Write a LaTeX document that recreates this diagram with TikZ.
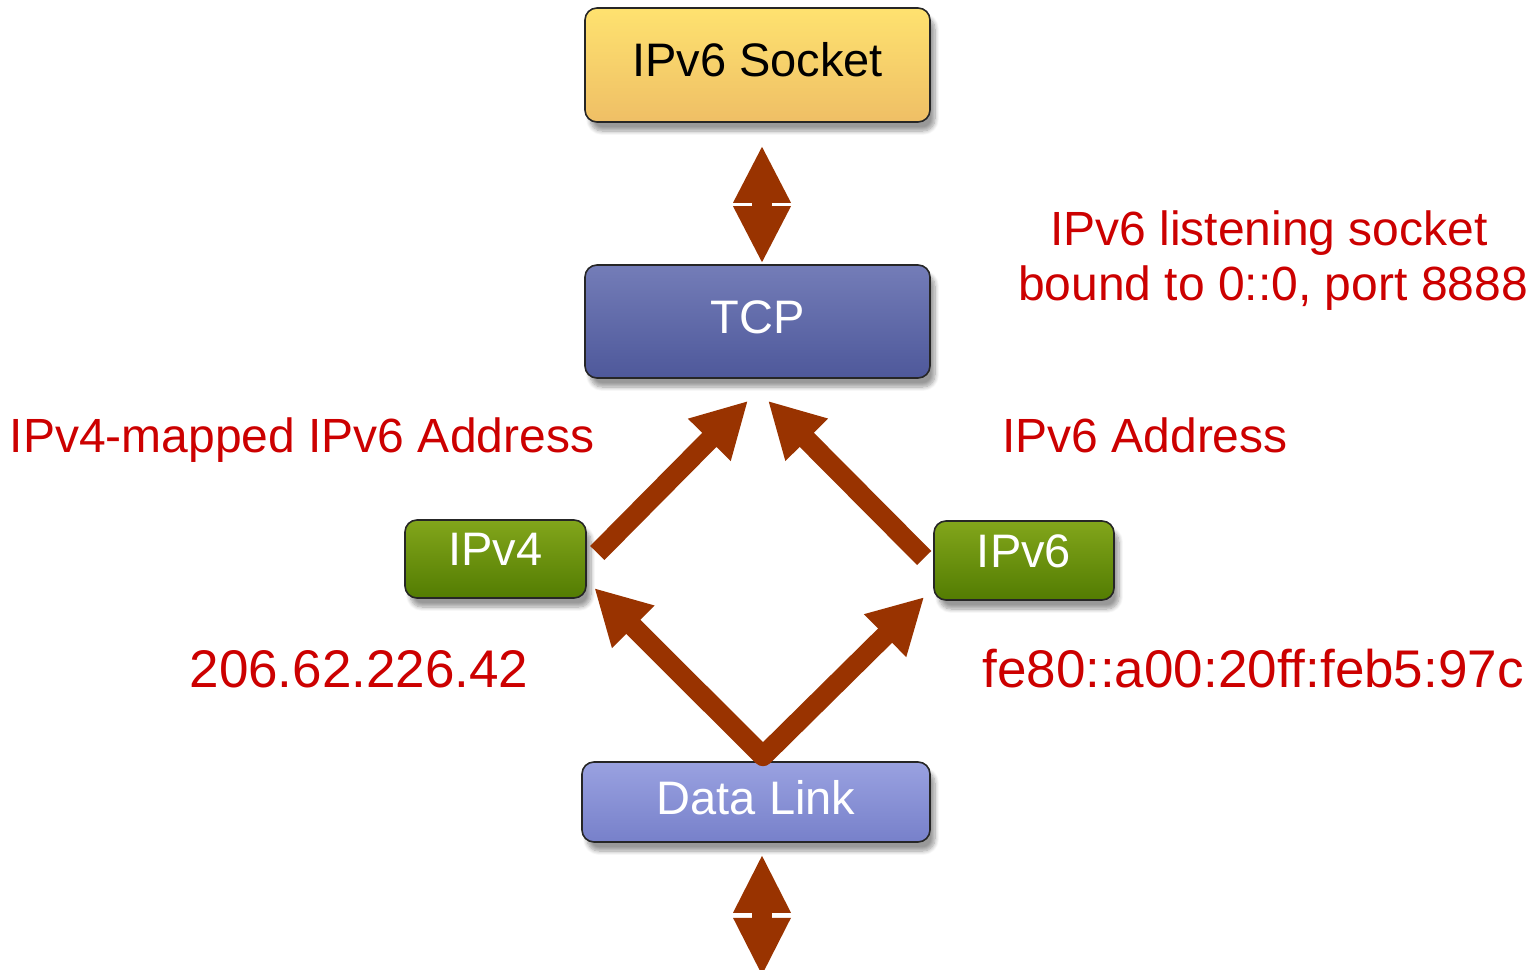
\documentclass[tikz,border=0pt]{standalone}
\usepackage{fontspec}
\setmainfont{Liberation Sans}
\usetikzlibrary{arrows.meta,shadows.blur,calc}

\definecolor{arrowbrown}{HTML}{993300}
\definecolor{labelred}{HTML}{CC0000}
\definecolor{edge}{HTML}{262626}
\definecolor{sockM}{HTML}{FECB6C}
\definecolor{tcpM}{HTML}{5560A8}
\definecolor{ipM}{HTML}{5C8A02}
\definecolor{dlM}{HTML}{808AD9}

\tikzset{
  layer/.style={draw=edge, line width=0.8pt, rounded corners=6pt, inner sep=0pt,
    font=\fontsize{23.5pt}{28pt}\selectfont, text height=16.8pt, text depth=5pt,
    blur shadow={shadow xshift=2.5pt, shadow yshift=-4.5pt, shadow opacity=40, shadow blur steps=8}},
  sockbox/.style={layer, top color=sockM!70!yellow!80!white, middle color=sockM, bottom color=sockM!94!black, text=black},
  tcpbox/.style={layer, top color=tcpM!82!white, middle color=tcpM, bottom color=tcpM!92!black, text=white},
  ipbox/.style={layer, top color=ipM!85!yellow!90!white, middle color=ipM, bottom color=ipM!90!black, text=white, text depth=10pt},
  linkbox/.style={layer, top color=dlM!80!white, middle color=dlM, bottom color=dlM!93!black, text=white, text depth=4pt},
  note/.style={text=labelred, anchor=base, inner sep=0pt, font=\fontsize{24pt}{28pt}\selectfont},
  addr/.style={text=labelred, anchor=base, inner sep=0pt, font=\fontsize{26.5pt}{30pt}\selectfont},
  flow/.style={draw=arrowbrown, line width=10pt, line join=round,
    arrows={-Triangle[length=27.5pt, width=28pt]}},
  bidi/.style={fill=arrowbrown, draw=none},
}

\begin{document}
\begin{tikzpicture}[x=0.5pt, y=-0.5pt]
\useasboundingbox (0,0) rectangle (1539,970);

% protocol layers
\node[sockbox, minimum width=172.5pt, minimum height=57pt] (sock) at (757.5,65) {IPv6 Socket};
\node[tcpbox, minimum width=172.5pt, minimum height=56.5pt] (tcp) at (757.5,321.5) {TCP};
\node[ipbox, minimum width=90.5pt, minimum height=39pt] (ipv4) at (495.5,559) {IPv4};
\node[ipbox, minimum width=90pt, minimum height=39.5pt] (ipv6) at (1024,560.5) {IPv6};
\node[linkbox, minimum width=174pt, minimum height=40pt] (dl) at (756,802) {Data Link};

% two-way arrow between socket and TCP
\coordinate (up) at ($(sock.south)+(4.5,24)$);
\coordinate (uq) at ($(tcp.north)+(4.5,-2)$);
\fill[bidi] (up) -- ++(29,56) -- ++(-58,0) -- cycle;
\fill[bidi] (uq) -- ++(29,-56) -- ++(-58,0) -- cycle;
\fill[bidi] ($(up)+(-10,48)$) rectangle ($(up)+(10,70)$);

% two-way arrow below the data link
\coordinate (dp) at ($(dl.south)+(6,13)$);
\fill[bidi] (dp) -- ++(29,57) -- ++(-58,0) -- cycle;
\fill[bidi] ($(dp)+(0,119)$) -- ++(29,-57) -- ++(-58,0) -- cycle;
\fill[bidi] ($(dp)+(-10,50)$) rectangle ($(dp)+(10,70)$);

% paths up through the stack
\coordinate (v4out) at ($(ipv4.east)+(10.5,-6)$);
\coordinate (v6out) at ($(ipv6.west)+(-9,-2.5)$);
\coordinate (tcpl) at ($(tcp.south)+(-9.5,22)$);
\coordinate (tcpr) at ($(tcp.south)+(10.5,22)$);
\coordinate (dltop) at ($(dl.north)+(7,-5)$);
\coordinate (v4in) at ($(ipv4.east)+(7.5,29)$);
\coordinate (v6in) at ($(ipv6.west)+(-9,36.5)$);

\draw[flow] (v4out) -- (tcpl);
\draw[flow] (v6out) -- (tcpr);
\draw[flow, arrows={Triangle[length=27.5pt, width=28pt]-Triangle[length=27.5pt, width=28pt]}]
  (v4in) -- (dltop) -- (v6in);

% address labels
\node[note] (listen1) at (1269,245) {IPv6 listening socket};
\node[note] (listen2) at (1273,300) {bound to 0::0, port 8888};
\node[note] (mapped) at (302,452) {IPv4-mapped IPv6 Address};
\node[note] (v6addr) at (1145,452) {IPv6 Address};
\node[addr] (v4num) at (359,687) {206.62.226.42};
\node[addr] (v6num) at (1253,687) {fe80::a00:20ff:feb5:97c};
\end{tikzpicture}
\end{document}
